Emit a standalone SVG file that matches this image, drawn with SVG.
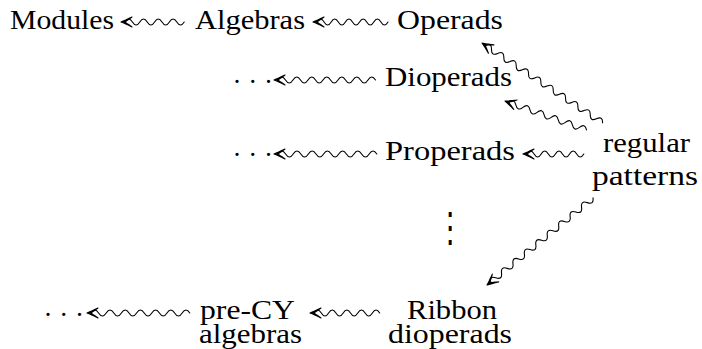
<svg xmlns="http://www.w3.org/2000/svg" xmlns:xlink="http://www.w3.org/1999/xlink" width="702" height="349" viewBox="0 0 702 349">
<style>
  text { font-family: "Liberation Serif", "Times New Roman", serif; font-size: 27px; fill: #000; }
  .vdots { font-family: "DejaVu Serif", serif; font-size: 28px; }
  .wave, .head { fill: none; stroke: #000; stroke-width: 1.1; stroke-linecap: round; stroke-linejoin: round; }
</style>
<defs>
  <path id="head" class="head" d="M11 -5 Q4 -1.5 0 0 Q4 1.5 11 5 M11 -5 Q6.5 -1.5 3 0 Q6.5 1.5 11 5 M0 0 L5 0"/>
</defs>
<rect width="702" height="349" fill="#fff"/>
<g id="connectors">
  <g transform="translate(121,22)"><use xlink:href="#head"/><path class="wave" d="M4 0 q3.7 -6 7.4 0 t7.4 0 t7.4 0 t7.4 0 t7.4 0 t7.4 0 t7.4 0 t7.4 0"/></g>
  <g transform="translate(313,22)"><use xlink:href="#head"/><path class="wave" d="M4 0 q3.55 -6 7.1 0 t7.1 0 t7.1 0 t7.1 0 t7.1 0 t7.1 0 t7.1 0 t7.1 0 t7.1 0 t7.1 0"/></g>
  <g transform="translate(274,80)"><use xlink:href="#head"/><path class="wave" d="M4 0 q3.75 -6 7.5 0 t7.5 0 t7.5 0 t7.5 0 t7.5 0 t7.5 0 t7.5 0 t7.5 0 t7.5 0 t7.5 0 t7.5 0 t7.5 0 t7.5 0"/></g>
  <g transform="translate(274,154)"><use xlink:href="#head"/><path class="wave" d="M4 0 q3.8 -6 7.6 0 t7.6 0 t7.6 0 t7.6 0 t7.6 0 t7.6 0 t7.6 0 t7.6 0 t7.6 0 t7.6 0 t7.6 0 t7.6 0 t7.6 0"/></g>
  <g transform="translate(523,154)"><use xlink:href="#head"/><path class="wave" d="M4 0 q3.55 -6 7.1 0 t7.1 0 t7.1 0 t7.1 0 t7.1 0 t7.1 0 t7.1 0 t7.1 0"/></g>
  <g transform="translate(482,43) rotate(33.5)"><use xlink:href="#head"/><path class="wave" d="M4 0 q3.7 -6 7.4 0 t7.4 0 t7.4 0 t7.4 0 t7.4 0 t7.4 0 t7.4 0 t7.4 0 t7.4 0 t7.4 0 t7.4 0 t7.4 0 t7.4 0 t7.4 0 t7.4 0 t7.4 0 t7.4 0 t7.4 0 t7.4 0"/></g>
  <g transform="translate(505,101) rotate(19.5)"><use xlink:href="#head"/><path class="wave" d="M4 0 q3.75 -6 7.5 0 t7.5 0 t7.5 0 t7.5 0 t7.5 0 t7.5 0 t7.5 0 t7.5 0 t7.5 0 t7.5 0 t7.5 0"/></g>
  <g transform="translate(487,285) rotate(-39.4)"><use xlink:href="#head"/><path class="wave" d="M4 0 q3.7 -6 7.4 0 t7.4 0 t7.4 0 t7.4 0 t7.4 0 t7.4 0 t7.4 0 t7.4 0 t7.4 0 t7.4 0 t7.4 0 t7.4 0 t7.4 0 t7.4 0 t7.4 0 t7.4 0 t7.4 0 t7.4 0"/></g>
  <g transform="translate(87,313)"><use xlink:href="#head"/><path class="wave" d="M4 0 q3.8 -6 7.6 0 t7.6 0 t7.6 0 t7.6 0 t7.6 0 t7.6 0 t7.6 0 t7.6 0 t7.6 0 t7.6 0 t7.6 0 t7.6 0 t7.6 0"/></g>
  <g transform="translate(310,313)"><use xlink:href="#head"/><path class="wave" d="M4 0 q3.65 -6 7.3 0 t7.3 0 t7.3 0 t7.3 0 t7.3 0 t7.3 0 t7.3 0 t7.3 0 t7.3 0"/></g>
</g>
<g id="n-modules"><text x="10" y="29" textLength="104" lengthAdjust="spacingAndGlyphs">Modules</text></g>
<g id="n-algebras"><text x="195" y="29" textLength="110" lengthAdjust="spacingAndGlyphs">Algebras</text></g>
<g id="n-operads"><text x="397" y="29" textLength="106" lengthAdjust="spacingAndGlyphs">Operads</text></g>
<g id="n-dots1"><text x="232.6" y="91">· · ·</text></g>
<g id="n-dioperads"><text x="385" y="86" textLength="127" lengthAdjust="spacingAndGlyphs">Dioperads</text></g>
<g id="n-dots2"><text x="232.6" y="164">· · ·</text></g>
<g id="n-properads"><text x="385" y="160" textLength="130" lengthAdjust="spacingAndGlyphs">Properads</text></g>
<g id="n-patterns">
  <text x="603" y="152" textLength="87" lengthAdjust="spacingAndGlyphs">regular</text>
  <text x="592" y="185" textLength="106" lengthAdjust="spacingAndGlyphs">patterns</text>
</g>
<g id="n-vdots" transform="translate(436,242) scale(1,1.45)"><text class="vdots" x="0" y="0">⋮</text></g>
<g id="n-dots3"><text x="43.6" y="324">· · ·</text></g>
<g id="n-precy">
  <text x="200" y="319" textLength="95" lengthAdjust="spacingAndGlyphs">pre-CY</text>
  <text x="199" y="343" textLength="103" lengthAdjust="spacingAndGlyphs">algebras</text>
</g>
<g id="n-ribbon">
  <text x="407" y="319" textLength="90" lengthAdjust="spacingAndGlyphs">Ribbon</text>
  <text x="388" y="343" textLength="124" lengthAdjust="spacingAndGlyphs">dioperads</text>
</g>
</svg>
